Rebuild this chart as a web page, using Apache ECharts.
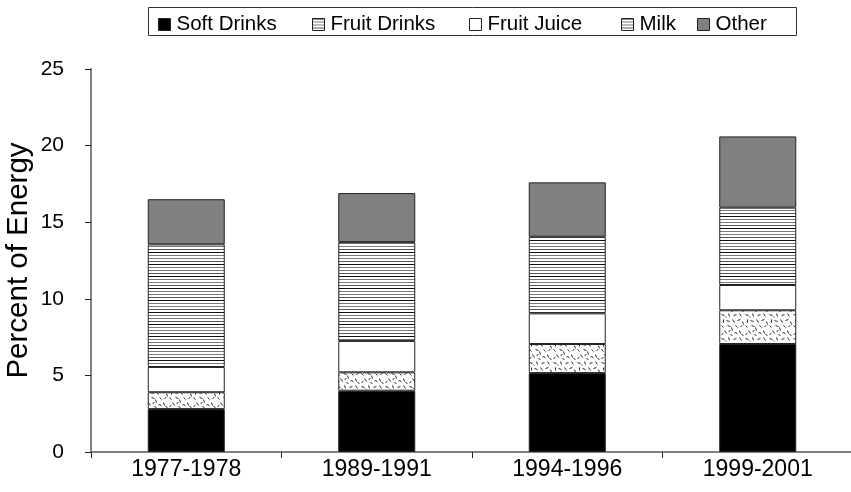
<!DOCTYPE html>
<html>
<head>
<meta charset="utf-8">
<title>Percent of Energy from Beverages</title>
<script src="https://cdn.jsdelivr.net/npm/echarts@6/dist/echarts.min.js"></script>
<style>
  html, body { margin: 0; padding: 0; background: #fff; }
  #chart { width: 851px; height: 492px; }
</style>
</head>
<body>
<div id="chart"></div>
<script>
// Survey periods
const periods = ['1977-1978', '1989-1991', '1994-1996', '1999-2001'];

// Percent of daily energy from each beverage group
const softDrinks  = [2.8, 4.0, 5.15, 7.05];
const fruitDrinks = [1.1, 1.2, 1.9, 2.2];
const fruitJuice  = [1.65, 2.05, 2.0, 1.65];
const milk        = [8.0, 6.45, 5.0, 5.05];
const other       = [2.95, 3.2, 3.55, 4.65];

const yTicks = { min: 0, max: 25, interval: 5 };

const FONT = '"Liberation Sans", Arial, Helvetica, sans-serif';

// Horizontal hatching (black and grey rules on white)
function hatchPattern() {
  const c = document.createElement('canvas');
  c.width = 8; c.height = 12;
  const g = c.getContext('2d');
  g.fillStyle = '#fff';
  g.fillRect(0, 0, 8, 12);
  const rows = [[0, '#111'], [3, '#7a7a7a'], [6, '#7a7a7a'], [9, '#555']];
  rows.forEach(([y, col]) => { g.fillStyle = col; g.fillRect(0, y, 8, 1); });
  return { image: c, repeat: 'repeat' };
}

// Scattered short dashes on white
function specklePattern() {
  const c = document.createElement('canvas');
  c.width = 24; c.height = 24;
  const g = c.getContext('2d');
  g.fillStyle = '#fff';
  g.fillRect(0, 0, 24, 24);
  g.strokeStyle = '#2a2a2a';
  g.lineWidth = 1;
  const strokes = [
    [1, 2, 4, 3], [8, 1, 9, 4], [13, 3, 16, 2], [19, 1, 21, 4],
    [3, 7, 3, 10], [6, 8, 9, 9], [12, 7, 14, 10], [17, 8, 20, 7],
    [22, 9, 23, 12], [1, 13, 3, 15], [7, 13, 10, 14], [11, 15, 12, 18],
    [15, 13, 17, 15], [20, 14, 22, 13], [4, 18, 6, 21], [8, 19, 10, 18],
    [14, 20, 17, 21], [19, 18, 20, 21], [1, 22, 3, 21], [10, 22, 12, 23],
    [21, 22, 23, 23], [5, 4, 6, 5]
  ];
  g.beginPath();
  strokes.forEach(([x1, y1, x2, y2]) => {
    g.moveTo(x1 + 0.5, y1 + 0.5);
    g.lineTo(x2 + 0.5, y2 + 0.5);
  });
  g.stroke();
  return { image: c, repeat: 'repeat' };
}

const hatch = hatchPattern();
const speckle = specklePattern();

const groups = [
  { name: 'Soft Drinks',  data: softDrinks,  color: '#000000' },
  { name: 'Fruit Drinks', data: fruitDrinks, color: speckle },
  { name: 'Fruit Juice',  data: fruitJuice,  color: '#ffffff' },
  { name: 'Milk',         data: milk,        color: hatch },
  { name: 'Other',        data: other,       color: '#808080' }
];

// Legend entries; Fruit Drinks and Milk share the hatched swatch
const legendSpots = [
  { name: 'Soft Drinks',  left: 158, swatch: '#000000' },
  { name: 'Fruit Drinks', left: 312, swatch: hatch },
  { name: 'Fruit Juice',  left: 469, swatch: '#ffffff' },
  { name: 'Milk',         left: 621, swatch: hatch },
  { name: 'Other',        left: 697, swatch: '#808080' }
];

const chart = echarts.init(document.getElementById('chart'), null, { renderer: 'canvas' });

chart.setOption({
  animation: false,
  backgroundColor: '#ffffff',
  textStyle: { fontFamily: FONT, color: '#000' },
  graphic: [{
    type: 'rect',
    shape: { x: 148.5, y: 7.5, width: 648, height: 28 },
    style: { fill: 'none', stroke: '#333', lineWidth: 1 },
    silent: true
  }],
  legend: legendSpots.map(s => ({
    left: s.left,
    top: 14,
    padding: 0,
    itemWidth: 12,
    itemHeight: 12,
    itemGap: 0,
    icon: 'rect',
    selectedMode: false,
    textStyle: { fontFamily: FONT, fontSize: 20.5, color: '#000', padding: [0, 0, 0, 1] },
    data: [{
      name: s.name,
      itemStyle: { color: s.swatch, borderColor: '#222', borderWidth: 1 }
    }]
  })),
  grid: { left: 91, top: 69, width: 762, bottom: 40, containLabel: false, outerBoundsMode: 'none' },
  xAxis: {
    type: 'category',
    data: periods,
    axisLine: { lineStyle: { color: '#808080', width: 2 } },
    axisTick: { show: true, length: 6, lineStyle: { color: '#222', width: 1 } },
    axisLabel: { fontFamily: FONT, fontSize: 23, color: '#000', margin: 6 }
  },
  yAxis: {
    type: 'value',
    min: yTicks.min,
    max: yTicks.max,
    interval: yTicks.interval,
    name: 'Percent of Energy',
    nameLocation: 'middle',
    nameGap: 57,
    nameMoveOverlap: false,
    nameTextStyle: { fontFamily: FONT, fontSize: 29.5, color: '#000' },
    splitLine: { show: false },
    axisLine: { show: true, lineStyle: { color: '#808080', width: 2 } },
    axisTick: { show: true, length: 6, lineStyle: { color: '#222', width: 1 } },
    axisLabel: { fontFamily: FONT, fontSize: 21, color: '#000', margin: 27 }
  },
  series: groups.map(g => ({
    name: g.name,
    type: 'bar',
    stack: 'energy',
    barWidth: 77,
    data: g.data,
    itemStyle: { color: g.color, borderColor: '#222', borderWidth: 1 },
    emphasis: { disabled: true }
  }))
});
</script>
</body>
</html>
